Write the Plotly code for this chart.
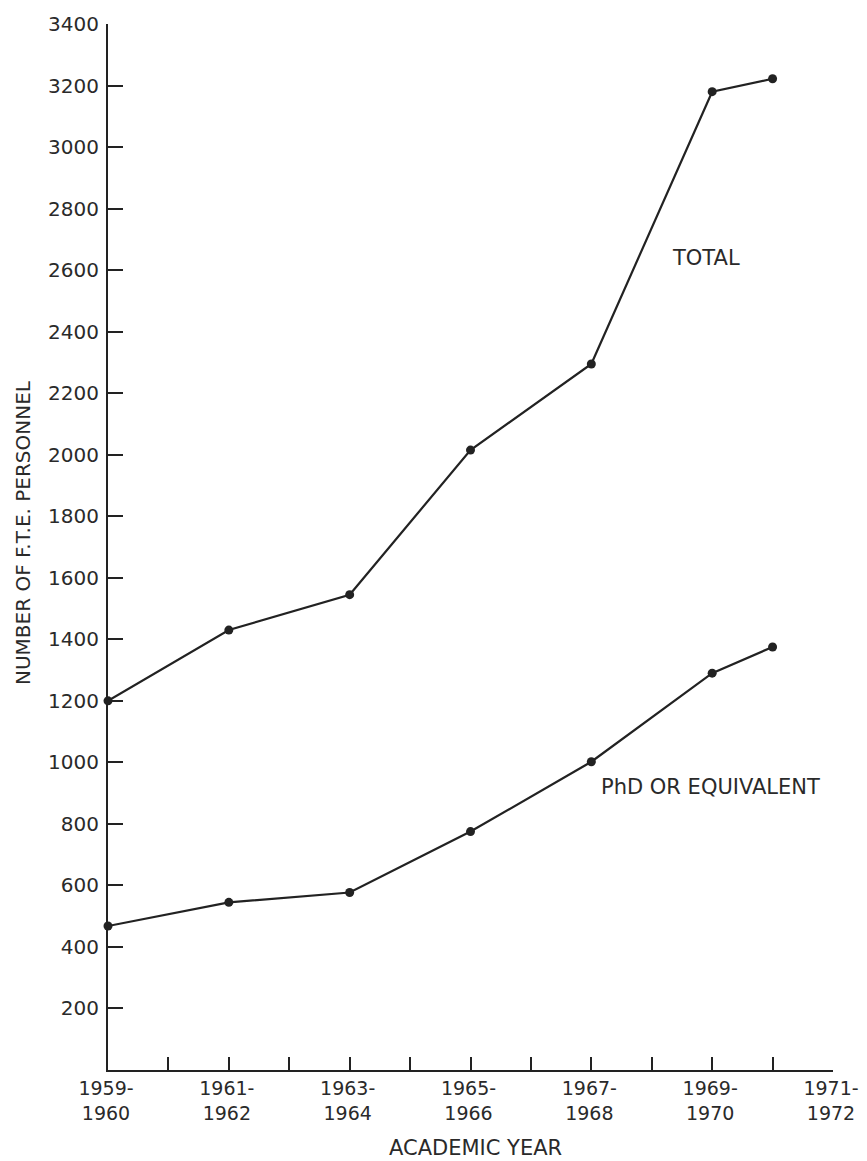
import plotly.graph_objects as go

# ---- data ----
years = [1959, 1961, 1963, 1965, 1967, 1969, 1970]
total = [1200, 1430, 1545, 2015, 2295, 3180, 3222]
phd = [468, 545, 577, 775, 1002, 1290, 1375]

x_tick_vals = list(range(1959, 1972))
x_tick_text = ["1959-<br>1960", "", "1961-<br>1962", "", "1963-<br>1964", "",
               "1965-<br>1966", "", "1967-<br>1968", "", "1969-<br>1970", "",
               "1971-<br>1972"]
y_tick_vals = list(range(200, 3401, 200))
y_tick_text = [str(v) for v in y_tick_vals]

INK = "#222222"
TXT = "#2a2a2a"
FONT = "DejaVu Sans"

fig = go.Figure()
for series in (total, phd):
    fig.add_trace(go.Scatter(
        x=years, y=series, mode="lines+markers",
        line=dict(color=INK, width=2.2),
        marker=dict(color=INK, size=9),
        showlegend=False, cliponaxis=False,
    ))

fig.update_layout(
    width=859, height=1153,
    margin=dict(l=100, r=34, t=16, b=91, autoexpand=False),
    paper_bgcolor="white", plot_bgcolor="white",
    font=dict(family=FONT, color=TXT, size=20),
)
fig.update_xaxes(
    range=[1959, 1971], showgrid=False, zeroline=False, automargin=False,
    showline=True, linecolor=INK, linewidth=2,
    tickmode="array", tickvals=x_tick_vals, ticktext=x_tick_text,
    ticks="inside", ticklen=13, tickwidth=2, tickcolor=INK,
    tickfont=dict(size=19), ticklabelshift=-2, ticklabelstandoff=0,
)
fig.update_yaxes(
    range=[0, 3400], showgrid=False, zeroline=False, automargin=False,
    showline=True, linecolor=INK, linewidth=2,
    tickmode="array", tickvals=y_tick_vals, ticktext=y_tick_text,
    ticks="inside", ticklen=15, tickwidth=2, tickcolor=INK,
    tickfont=dict(size=20), ticklabelstandoff=3,
)

fig.add_annotation(text="TOTAL", x=1968.9, y=2640, xref="x", yref="y",
                   showarrow=False, font=dict(size=21, family=FONT, color=TXT))
fig.add_annotation(text="PhD OR EQUIVALENT", x=1968.98, y=920, xref="x", yref="y",
                   showarrow=False, font=dict(size=21, family=FONT, color=TXT))
fig.add_annotation(text="ACADEMIC YEAR", x=(475 - 108) / 725, y=(1070 - 1148) / 1046,
                   xref="paper", yref="paper", showarrow=False, yanchor="middle",
                   font=dict(size=21, family=FONT, color=TXT))
fig.add_annotation(text="NUMBER OF F.T.E. PERSONNEL", x=(23 - 108) / 725,
                   y=(1070 - 533) / 1046, xref="paper", yref="paper",
                   showarrow=False, textangle=-90, xanchor="center", yanchor="middle",
                   font=dict(size=20, family=FONT, color=TXT))

fig.write_html("out.html")
